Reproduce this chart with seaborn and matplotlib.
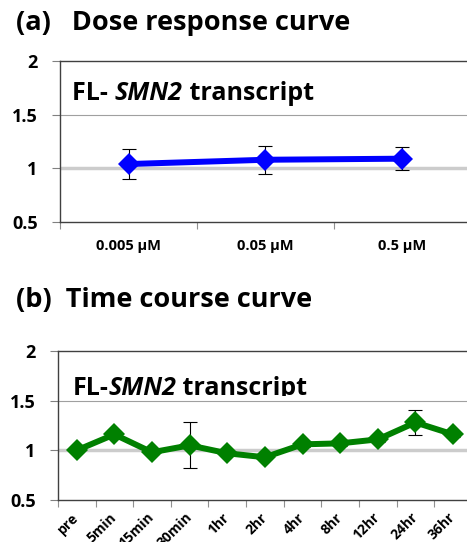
import numpy as np
import pandas as pd
import matplotlib.pyplot as plt
from matplotlib.patches import Rectangle
import seaborn as sns

# (a) dose response
dose_labels = ['0.005 μM', '0.05 μM', '0.5 μM']
dose_mean = [1.04, 1.08, 1.09]
dose_err = [0.14, 0.13, 0.11]

# (b) time course
time_labels = ['pre', '5min', '15min', '30min', '1hr', '2hr', '4hr', '8hr', '12hr', '24hr', '36hr']
time_mean = [1.00, 1.16, 0.98, 1.05, 0.97, 0.93, 1.06, 1.07, 1.11, 1.28, 1.16]
time_err = [0.02, 0.03, 0.02, 0.23, 0.02, 0.02, 0.03, 0.03, 0.03, 0.13, 0.03]

y_ticks = [0.5, 1, 1.5, 2]
y_ticklabels = ['0.5', '1', '1.5', '2']

sns.set_theme(style='white')
plt.rcParams['font.family'] = ['Open Sans', 'DejaVu Sans']
plt.rcParams['text.color'] = 'black'
plt.rcParams['xtick.color'] = 'black'
plt.rcParams['ytick.color'] = 'black'


def draw_panel(ax, labels, mean, err, color, rot):
    df = pd.DataFrame({'pos': np.arange(len(labels)), 'value': mean, 'err': err})
    ax.errorbar(df['pos'], df['value'], yerr=df['err'], fmt='none', ecolor='black',
                elinewidth=0.8, capsize=5, capthick=0.8, zorder=1.5)
    sns.lineplot(data=df, x='pos', y='value', ax=ax, color=color, lw=4.3,
                 marker='D', markersize=11, markeredgewidth=0, zorder=2)

    ax.set_xlim(-0.5, len(labels) - 0.5)
    ax.set_ylim(0.5, 2)
    ax.set_xlabel('')
    ax.set_ylabel('')

    ax.set_yticks(y_ticks)
    ax.set_yticklabels(y_ticklabels, fontsize=13, fontweight='bold')
    ax.tick_params(axis='y', left=True, length=6, width=0.8, color='#808080', pad=10)

    ax.set_xticks(np.arange(len(labels)))
    if rot:
        ax.set_xticklabels(labels, fontsize=10, fontweight='bold', rotation=45,
                           ha='right', va='center', rotation_mode='anchor')
        ax.tick_params(axis='x', which='major', length=0, pad=11)
    else:
        ax.set_xticklabels(labels, fontsize=10.5, fontweight='bold')
        ax.tick_params(axis='x', which='major', length=0, pad=12)
    ax.set_xticks(np.arange(-0.5, len(labels)), minor=True)
    ax.tick_params(axis='x', which='minor', bottom=True, length=5, width=0.8, color='#909090')

    ax.yaxis.grid(True)
    grid = ax.get_ygridlines()
    grid[1].set_color('#cccccc')
    grid[1].set_linewidth(2.5)
    grid[2].set_color('#a0a0a0')
    grid[2].set_linewidth(0.8)
    grid[0].set_visible(False)
    grid[3].set_visible(False)

    for side in ['left', 'bottom', 'top', 'right']:
        ax.spines[side].set_color('#404040')
        ax.spines[side].set_linewidth(1.0)


def inset_label(ax, x, y, first, clip=None):
    # "FL-" + italic "SMN2" + " transcript", chained one after another
    t1 = ax.text(x, y, first, transform=ax.transAxes, fontsize=18,
                 fontweight='bold', va='bottom')
    t2 = ax.annotate('SMN2', xy=(1, 0), xycoords=t1, fontsize=18,
                     fontweight='bold', style='italic', va='bottom')
    t3 = ax.annotate(' transcript', xy=(1, 0), xycoords=t2, fontsize=18,
                     fontweight='bold', va='bottom')
    if clip is not None:
        for t in (t1, t2, t3):
            t.set_clip_path(Rectangle((0, clip), 1, 1 - clip, transform=ax.transAxes))


fig = plt.figure(figsize=(4.67, 5.42), dpi=100)
ax1 = fig.add_axes([0.1285, 0.5904, 0.880, 0.297])
ax2 = fig.add_axes([0.124, 0.0775, 0.8865, 0.275])

draw_panel(ax1, dose_labels, dose_mean, dose_err, '#0000ff', False)
draw_panel(ax2, time_labels, time_mean, time_err, '#008000', True)

fig.text(16 / 467, 1 - 23 / 542, '(a)   Dose response curve', fontsize=19.5,
         fontweight='bold', va='center')
fig.text(16 / 467, 1 - 300 / 542, '(b)  Time course curve', fontsize=19.5,
         fontweight='bold', va='center')

inset_label(ax1, 0.03, 0.72, 'FL- ')
inset_label(ax2, 0.035, 0.665, 'FL-', clip=0.695)

fig.savefig('out.png', dpi=100)
